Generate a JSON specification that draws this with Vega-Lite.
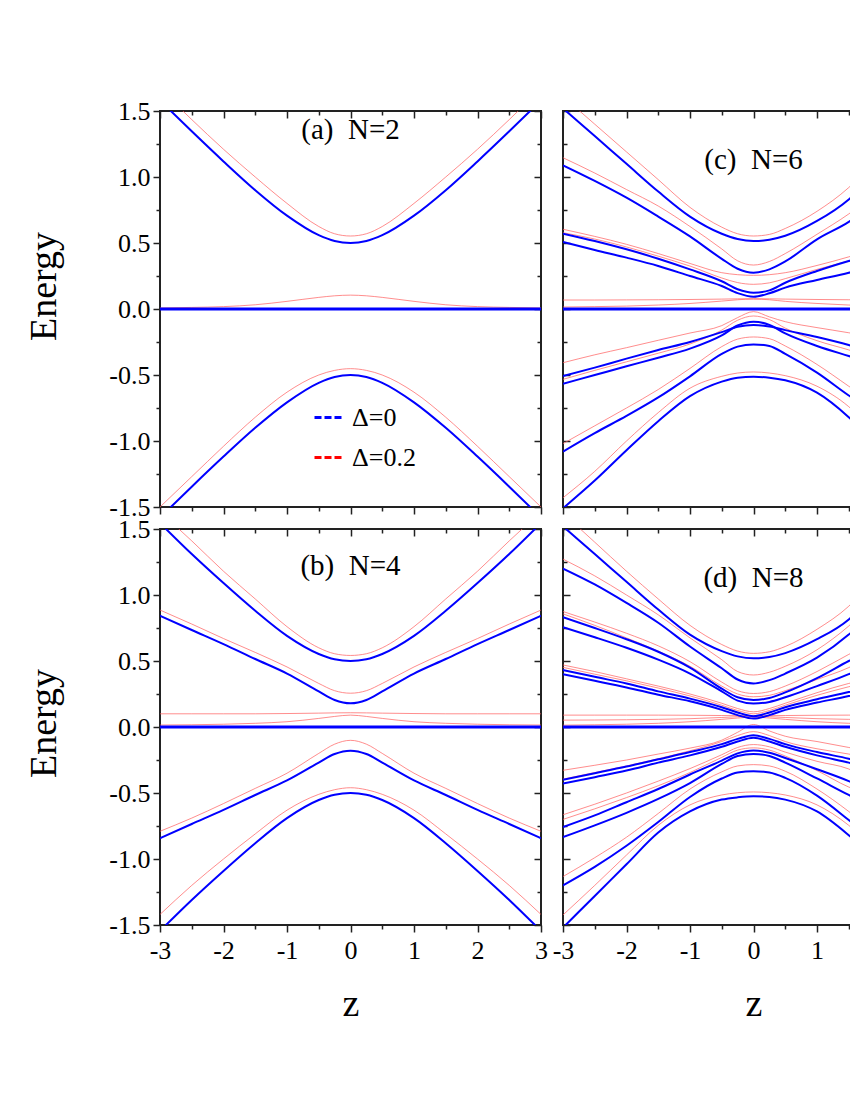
{
"$schema": "https://vega.github.io/schema/vega-lite/v6.json",
"padding": {"left": 24, "top": 97, "right": 0, "bottom": 0},
"background": "white",
"config": {
  "font": "Liberation Serif",
  "view": {"stroke": "#222", "strokeWidth": 2},
  "axis": {"grid": false, "domain": false, "tickColor": "#222", "tickWidth": 1.5, "labelFont": "Liberation Serif", "labelFontSize": 26, "labelColor": "#000", "titleFont": "Liberation Serif", "titleFontWeight": "normal", "titleColor": "#000", "labelFlush": false, "labelOverlap": false, "labelBound": false}
},
"datasets": {
"a": [
{"d":0,"c":1,"z":-3,"e":1.58},{"d":0,"c":1,"z":-2.5,"e":1.346},{"d":0,"c":1,"z":-2,"e":1.118},{"d":0,"c":1,"z":-1.5,"e":0.9},{"d":0,"c":1,"z":-1,"e":0.707},{"d":0,"c":1,"z":-0.5,"e":0.559},{"d":0,"c":1,"z":-0.25,"e":0.515},{"d":0,"c":1,"z":0,"e":0.5},{"d":0,"c":1,"z":0.25,"e":0.515},{"d":0,"c":1,"z":0.5,"e":0.559},{"d":0,"c":1,"z":1,"e":0.707},{"d":0,"c":1,"z":1.5,"e":0.9},{"d":0,"c":1,"z":2,"e":1.118},{"d":0,"c":1,"z":2.5,"e":1.346},{"d":0,"c":1,"z":3,"e":1.58},
{"d":0,"c":0,"z":-3,"e":0},{"d":0,"c":0,"z":0,"e":0},{"d":0,"c":0,"z":3,"e":0},
{"d":0,"c":2,"z":-3,"e":-1.58},{"d":0,"c":2,"z":-2.5,"e":-1.346},{"d":0,"c":2,"z":-2,"e":-1.118},{"d":0,"c":2,"z":-1.5,"e":-0.9},{"d":0,"c":2,"z":-1,"e":-0.707},{"d":0,"c":2,"z":-0.5,"e":-0.559},{"d":0,"c":2,"z":-0.25,"e":-0.515},{"d":0,"c":2,"z":0,"e":-0.5},{"d":0,"c":2,"z":0.25,"e":-0.515},{"d":0,"c":2,"z":0.5,"e":-0.559},{"d":0,"c":2,"z":1,"e":-0.707},{"d":0,"c":2,"z":1.5,"e":-0.9},{"d":0,"c":2,"z":2,"e":-1.118},{"d":0,"c":2,"z":2.5,"e":-1.346},{"d":0,"c":2,"z":3,"e":-1.58},
{"d":0.2,"c":11,"z":-3,"e":1.67},{"d":0.2,"c":11,"z":-2.5,"e":1.435},{"d":0.2,"c":11,"z":-2,"e":1.21},{"d":0.2,"c":11,"z":-1.5,"e":1.0},{"d":0.2,"c":11,"z":-1,"e":0.8},{"d":0.2,"c":11,"z":-0.5,"e":0.625},{"d":0.2,"c":11,"z":-0.25,"e":0.57},{"d":0.2,"c":11,"z":0,"e":0.553},{"d":0.2,"c":11,"z":0.25,"e":0.57},{"d":0.2,"c":11,"z":0.5,"e":0.625},{"d":0.2,"c":11,"z":1,"e":0.8},{"d":0.2,"c":11,"z":1.5,"e":1.0},{"d":0.2,"c":11,"z":2,"e":1.21},{"d":0.2,"c":11,"z":2.5,"e":1.435},{"d":0.2,"c":11,"z":3,"e":1.67},
{"d":0.2,"c":10,"z":-3,"e":0.008},{"d":0.2,"c":10,"z":-2.5,"e":0.012},{"d":0.2,"c":10,"z":-2,"e":0.018},{"d":0.2,"c":10,"z":-1.5,"e":0.032},{"d":0.2,"c":10,"z":-1,"e":0.058},{"d":0.2,"c":10,"z":-0.5,"e":0.088},{"d":0.2,"c":10,"z":-0.25,"e":0.1},{"d":0.2,"c":10,"z":0,"e":0.105},{"d":0.2,"c":10,"z":0.25,"e":0.1},{"d":0.2,"c":10,"z":0.5,"e":0.088},{"d":0.2,"c":10,"z":1,"e":0.058},{"d":0.2,"c":10,"z":1.5,"e":0.032},{"d":0.2,"c":10,"z":2,"e":0.018},{"d":0.2,"c":10,"z":2.5,"e":0.012},{"d":0.2,"c":10,"z":3,"e":0.008},
{"d":0.2,"c":12,"z":-3,"e":-1.5},{"d":0.2,"c":12,"z":-2.5,"e":-1.27},{"d":0.2,"c":12,"z":-2,"e":-1.04},{"d":0.2,"c":12,"z":-1.5,"e":-0.82},{"d":0.2,"c":12,"z":-1,"e":-0.63},{"d":0.2,"c":12,"z":-0.5,"e":-0.5},{"d":0.2,"c":12,"z":-0.25,"e":-0.465},{"d":0.2,"c":12,"z":0,"e":-0.452},{"d":0.2,"c":12,"z":0.25,"e":-0.465},{"d":0.2,"c":12,"z":0.5,"e":-0.5},{"d":0.2,"c":12,"z":1,"e":-0.63},{"d":0.2,"c":12,"z":1.5,"e":-0.82},{"d":0.2,"c":12,"z":2,"e":-1.04},{"d":0.2,"c":12,"z":2.5,"e":-1.27},{"d":0.2,"c":12,"z":3,"e":-1.5}
],
"b": [
{"d":0,"c":1,"z":-3,"e":1.545},{"d":0,"c":1,"z":-2.5,"e":1.31},{"d":0,"c":1,"z":-2,"e":1.09},{"d":0,"c":1,"z":-1.5,"e":0.88},{"d":0,"c":1,"z":-1,"e":0.69},{"d":0,"c":1,"z":-0.5,"e":0.553},{"d":0,"c":1,"z":-0.25,"e":0.513},{"d":0,"c":1,"z":0,"e":0.5},{"d":0,"c":1,"z":0.25,"e":0.513},{"d":0,"c":1,"z":0.5,"e":0.553},{"d":0,"c":1,"z":1,"e":0.69},{"d":0,"c":1,"z":1.5,"e":0.88},{"d":0,"c":1,"z":2,"e":1.09},{"d":0,"c":1,"z":2.5,"e":1.31},{"d":0,"c":1,"z":3,"e":1.545},
{"d":0,"c":2,"z":-3,"e":0.843},{"d":0,"c":2,"z":-2.5,"e":0.735},{"d":0,"c":2,"z":-2,"e":0.628},{"d":0,"c":2,"z":-1.5,"e":0.515},{"d":0,"c":2,"z":-1,"e":0.405},{"d":0,"c":2,"z":-0.5,"e":0.27},{"d":0,"c":2,"z":-0.25,"e":0.205},{"d":0,"c":2,"z":0,"e":0.18},{"d":0,"c":2,"z":0.25,"e":0.205},{"d":0,"c":2,"z":0.5,"e":0.27},{"d":0,"c":2,"z":1,"e":0.405},{"d":0,"c":2,"z":1.5,"e":0.515},{"d":0,"c":2,"z":2,"e":0.628},{"d":0,"c":2,"z":2.5,"e":0.735},{"d":0,"c":2,"z":3,"e":0.843},
{"d":0,"c":0,"z":-3,"e":0},{"d":0,"c":0,"z":0,"e":0},{"d":0,"c":0,"z":3,"e":0},
{"d":0,"c":3,"z":-3,"e":-0.843},{"d":0,"c":3,"z":-2.5,"e":-0.735},{"d":0,"c":3,"z":-2,"e":-0.628},{"d":0,"c":3,"z":-1.5,"e":-0.515},{"d":0,"c":3,"z":-1,"e":-0.405},{"d":0,"c":3,"z":-0.5,"e":-0.27},{"d":0,"c":3,"z":-0.25,"e":-0.205},{"d":0,"c":3,"z":0,"e":-0.18},{"d":0,"c":3,"z":0.25,"e":-0.205},{"d":0,"c":3,"z":0.5,"e":-0.27},{"d":0,"c":3,"z":1,"e":-0.405},{"d":0,"c":3,"z":1.5,"e":-0.515},{"d":0,"c":3,"z":2,"e":-0.628},{"d":0,"c":3,"z":2.5,"e":-0.735},{"d":0,"c":3,"z":3,"e":-0.843},
{"d":0,"c":4,"z":-3,"e":-1.545},{"d":0,"c":4,"z":-2.5,"e":-1.31},{"d":0,"c":4,"z":-2,"e":-1.09},{"d":0,"c":4,"z":-1.5,"e":-0.88},{"d":0,"c":4,"z":-1,"e":-0.69},{"d":0,"c":4,"z":-0.5,"e":-0.553},{"d":0,"c":4,"z":-0.25,"e":-0.513},{"d":0,"c":4,"z":0,"e":-0.5},{"d":0,"c":4,"z":0.25,"e":-0.513},{"d":0,"c":4,"z":0.5,"e":-0.553},{"d":0,"c":4,"z":1,"e":-0.69},{"d":0,"c":4,"z":1.5,"e":-0.88},{"d":0,"c":4,"z":2,"e":-1.09},{"d":0,"c":4,"z":2.5,"e":-1.31},{"d":0,"c":4,"z":3,"e":-1.545},
{"d":0.2,"c":11,"z":-3,"e":1.63},{"d":0.2,"c":11,"z":-2.5,"e":1.41},{"d":0.2,"c":11,"z":-2,"e":1.18},{"d":0.2,"c":11,"z":-1.5,"e":0.97},{"d":0.2,"c":11,"z":-1,"e":0.76},{"d":0.2,"c":11,"z":-0.5,"e":0.6},{"d":0.2,"c":11,"z":-0.25,"e":0.555},{"d":0.2,"c":11,"z":0,"e":0.542},{"d":0.2,"c":11,"z":0.25,"e":0.555},{"d":0.2,"c":11,"z":0.5,"e":0.6},{"d":0.2,"c":11,"z":1,"e":0.76},{"d":0.2,"c":11,"z":1.5,"e":0.97},{"d":0.2,"c":11,"z":2,"e":1.18},{"d":0.2,"c":11,"z":2.5,"e":1.41},{"d":0.2,"c":11,"z":3,"e":1.63},
{"d":0.2,"c":12,"z":-3,"e":0.886},{"d":0.2,"c":12,"z":-2.5,"e":0.78},{"d":0.2,"c":12,"z":-2,"e":0.67},{"d":0.2,"c":12,"z":-1.5,"e":0.565},{"d":0.2,"c":12,"z":-1,"e":0.455},{"d":0.2,"c":12,"z":-0.5,"e":0.33},{"d":0.2,"c":12,"z":-0.25,"e":0.275},{"d":0.2,"c":12,"z":0,"e":0.256},{"d":0.2,"c":12,"z":0.25,"e":0.275},{"d":0.2,"c":12,"z":0.5,"e":0.33},{"d":0.2,"c":12,"z":1,"e":0.455},{"d":0.2,"c":12,"z":1.5,"e":0.565},{"d":0.2,"c":12,"z":2,"e":0.67},{"d":0.2,"c":12,"z":2.5,"e":0.78},{"d":0.2,"c":12,"z":3,"e":0.886},
{"d":0.2,"c":13,"z":-3,"e":0.1},{"d":0.2,"c":13,"z":-2.5,"e":0.1},{"d":0.2,"c":13,"z":-2,"e":0.1},{"d":0.2,"c":13,"z":-1.5,"e":0.1},{"d":0.2,"c":13,"z":-1,"e":0.102},{"d":0.2,"c":13,"z":-0.5,"e":0.105},{"d":0.2,"c":13,"z":-0.25,"e":0.107},{"d":0.2,"c":13,"z":0,"e":0.108},{"d":0.2,"c":13,"z":0.25,"e":0.107},{"d":0.2,"c":13,"z":0.5,"e":0.105},{"d":0.2,"c":13,"z":1,"e":0.102},{"d":0.2,"c":13,"z":1.5,"e":0.1},{"d":0.2,"c":13,"z":2,"e":0.1},{"d":0.2,"c":13,"z":2.5,"e":0.1},{"d":0.2,"c":13,"z":3,"e":0.1},
{"d":0.2,"c":14,"z":-3,"e":0.015},{"d":0.2,"c":14,"z":-2.5,"e":0.017},{"d":0.2,"c":14,"z":-2,"e":0.021},{"d":0.2,"c":14,"z":-1.5,"e":0.028},{"d":0.2,"c":14,"z":-1,"e":0.04},{"d":0.2,"c":14,"z":-0.5,"e":0.065},{"d":0.2,"c":14,"z":-0.25,"e":0.08},{"d":0.2,"c":14,"z":0,"e":0.09},{"d":0.2,"c":14,"z":0.25,"e":0.08},{"d":0.2,"c":14,"z":0.5,"e":0.065},{"d":0.2,"c":14,"z":1,"e":0.04},{"d":0.2,"c":14,"z":1.5,"e":0.028},{"d":0.2,"c":14,"z":2,"e":0.021},{"d":0.2,"c":14,"z":2.5,"e":0.017},{"d":0.2,"c":14,"z":3,"e":0.015},
{"d":0.2,"c":15,"z":-3,"e":-0.79},{"d":0.2,"c":15,"z":-2.5,"e":-0.69},{"d":0.2,"c":15,"z":-2,"e":-0.58},{"d":0.2,"c":15,"z":-1.5,"e":-0.465},{"d":0.2,"c":15,"z":-1,"e":-0.35},{"d":0.2,"c":15,"z":-0.5,"e":-0.2},{"d":0.2,"c":15,"z":-0.25,"e":-0.13},{"d":0.2,"c":15,"z":0,"e":-0.101},{"d":0.2,"c":15,"z":0.25,"e":-0.13},{"d":0.2,"c":15,"z":0.5,"e":-0.2},{"d":0.2,"c":15,"z":1,"e":-0.35},{"d":0.2,"c":15,"z":1.5,"e":-0.465},{"d":0.2,"c":15,"z":2,"e":-0.58},{"d":0.2,"c":15,"z":2.5,"e":-0.69},{"d":0.2,"c":15,"z":3,"e":-0.79},
{"d":0.2,"c":16,"z":-3,"e":-1.42},{"d":0.2,"c":16,"z":-2.5,"e":-1.2},{"d":0.2,"c":16,"z":-2,"e":-1.0},{"d":0.2,"c":16,"z":-1.5,"e":-0.81},{"d":0.2,"c":16,"z":-1,"e":-0.63},{"d":0.2,"c":16,"z":-0.5,"e":-0.51},{"d":0.2,"c":16,"z":-0.25,"e":-0.475},{"d":0.2,"c":16,"z":0,"e":-0.46},{"d":0.2,"c":16,"z":0.25,"e":-0.475},{"d":0.2,"c":16,"z":0.5,"e":-0.51},{"d":0.2,"c":16,"z":1,"e":-0.63},{"d":0.2,"c":16,"z":1.5,"e":-0.81},{"d":0.2,"c":16,"z":2,"e":-1.0},{"d":0.2,"c":16,"z":2.5,"e":-1.2},{"d":0.2,"c":16,"z":3,"e":-1.42}
],
"c": [
{"d":0,"c":1,"z":-3,"e":1.52},{"d":0,"c":1,"z":-2.5,"e":1.31},{"d":0,"c":1,"z":-2,"e":1.1},{"d":0,"c":1,"z":-1.5,"e":0.89},{"d":0,"c":1,"z":-1,"e":0.7},{"d":0,"c":1,"z":-0.5,"e":0.57},{"d":0,"c":1,"z":-0.25,"e":0.53},{"d":0,"c":1,"z":0,"e":0.515},{"d":0,"c":1,"z":0.25,"e":0.525},{"d":0,"c":1,"z":0.5,"e":0.555},{"d":0,"c":1,"z":1,"e":0.667},{"d":0,"c":1,"z":1.5,"e":0.83},{"d":0,"c":1,"z":2,"e":1.08},{"d":0,"c":1,"z":2.5,"e":1.3},{"d":0,"c":1,"z":3,"e":1.52},
{"d":0,"c":2,"z":-3,"e":1.088},{"d":0,"c":2,"z":-2.5,"e":0.97},{"d":0,"c":2,"z":-2,"e":0.843},{"d":0,"c":2,"z":-1.5,"e":0.7},{"d":0,"c":2,"z":-1,"e":0.55},{"d":0,"c":2,"z":-0.5,"e":0.38},{"d":0,"c":2,"z":-0.25,"e":0.305},{"d":0,"c":2,"z":0,"e":0.275},{"d":0,"c":2,"z":0.25,"e":0.3},{"d":0,"c":2,"z":0.5,"e":0.36},{"d":0,"c":2,"z":1,"e":0.528},{"d":0,"c":2,"z":1.5,"e":0.66},{"d":0,"c":2,"z":2,"e":0.843},{"d":0,"c":2,"z":2.5,"e":0.97},{"d":0,"c":2,"z":3,"e":1.088},
{"d":0,"c":3,"z":-3,"e":0.571},{"d":0,"c":3,"z":-2.5,"e":0.515},{"d":0,"c":3,"z":-2,"e":0.452},{"d":0,"c":3,"z":-1.5,"e":0.381},{"d":0,"c":3,"z":-1,"e":0.3},{"d":0,"c":3,"z":-0.5,"e":0.21},{"d":0,"c":3,"z":-0.25,"e":0.15},{"d":0,"c":3,"z":0,"e":0.124},{"d":0,"c":3,"z":0.25,"e":0.141},{"d":0,"c":3,"z":0.5,"e":0.199},{"d":0,"c":3,"z":1,"e":0.288},{"d":0,"c":3,"z":1.5,"e":0.364},{"d":0,"c":3,"z":2,"e":0.43},{"d":0,"c":3,"z":2.5,"e":0.5},{"d":0,"c":3,"z":3,"e":0.571},
{"d":0,"c":4,"z":-3,"e":0.508},{"d":0,"c":4,"z":-2.5,"e":0.447},{"d":0,"c":4,"z":-2,"e":0.389},{"d":0,"c":4,"z":-1.5,"e":0.326},{"d":0,"c":4,"z":-1,"e":0.25},{"d":0,"c":4,"z":-0.5,"e":0.174},{"d":0,"c":4,"z":-0.25,"e":0.12},{"d":0,"c":4,"z":0,"e":0.093},{"d":0,"c":4,"z":0.25,"e":0.119},{"d":0,"c":4,"z":0.5,"e":0.162},{"d":0,"c":4,"z":1,"e":0.22},{"d":0,"c":4,"z":1.5,"e":0.275},{"d":0,"c":4,"z":2,"e":0.35},{"d":0,"c":4,"z":2.5,"e":0.43},{"d":0,"c":4,"z":3,"e":0.508},
{"d":0,"c":0,"z":-3,"e":0},{"d":0,"c":0,"z":0,"e":0},{"d":0,"c":0,"z":3,"e":0},
{"d":0,"c":5,"z":-3,"e":-0.508},{"d":0,"c":5,"z":-2.5,"e":-0.444},{"d":0,"c":5,"z":-2,"e":-0.376},{"d":0,"c":5,"z":-1.5,"e":-0.311},{"d":0,"c":5,"z":-1,"e":-0.25},{"d":0,"c":5,"z":-0.5,"e":-0.175},{"d":0,"c":5,"z":-0.25,"e":-0.135},{"d":0,"c":5,"z":0,"e":-0.121},{"d":0,"c":5,"z":0.25,"e":-0.133},{"d":0,"c":5,"z":0.5,"e":-0.16},{"d":0,"c":5,"z":1,"e":-0.212},{"d":0,"c":5,"z":1.5,"e":-0.273},{"d":0,"c":5,"z":2,"e":-0.35},{"d":0,"c":5,"z":2.5,"e":-0.43},{"d":0,"c":5,"z":3,"e":-0.508},
{"d":0,"c":6,"z":-3,"e":-0.566},{"d":0,"c":6,"z":-2.5,"e":-0.5},{"d":0,"c":6,"z":-2,"e":-0.434},{"d":0,"c":6,"z":-1.5,"e":-0.369},{"d":0,"c":6,"z":-1,"e":-0.3},{"d":0,"c":6,"z":-0.5,"e":-0.2},{"d":0,"c":6,"z":-0.25,"e":-0.125},{"d":0,"c":6,"z":0,"e":-0.096},{"d":0,"c":6,"z":0.25,"e":-0.12},{"d":0,"c":6,"z":0.5,"e":-0.185},{"d":0,"c":6,"z":1,"e":-0.28},{"d":0,"c":6,"z":1.5,"e":-0.356},{"d":0,"c":6,"z":2,"e":-0.43},{"d":0,"c":6,"z":2.5,"e":-0.5},{"d":0,"c":6,"z":3,"e":-0.566},
{"d":0,"c":7,"z":-3,"e":-1.08},{"d":0,"c":7,"z":-2.5,"e":-0.94},{"d":0,"c":7,"z":-2,"e":-0.81},{"d":0,"c":7,"z":-1.5,"e":-0.67},{"d":0,"c":7,"z":-1,"e":-0.51},{"d":0,"c":7,"z":-0.5,"e":-0.34},{"d":0,"c":7,"z":-0.25,"e":-0.285},{"d":0,"c":7,"z":0,"e":-0.268},{"d":0,"c":7,"z":0.25,"e":-0.28},{"d":0,"c":7,"z":0.5,"e":-0.34},{"d":0,"c":7,"z":1,"e":-0.482},{"d":0,"c":7,"z":1.5,"e":-0.655},{"d":0,"c":7,"z":2,"e":-0.81},{"d":0,"c":7,"z":2.5,"e":-0.94},{"d":0,"c":7,"z":3,"e":-1.08},
{"d":0,"c":8,"z":-3,"e":-1.51},{"d":0,"c":8,"z":-2.5,"e":-1.3},{"d":0,"c":8,"z":-2,"e":-1.07},{"d":0,"c":8,"z":-1.5,"e":-0.85},{"d":0,"c":8,"z":-1,"e":-0.66},{"d":0,"c":8,"z":-0.5,"e":-0.55},{"d":0,"c":8,"z":-0.25,"e":-0.52},{"d":0,"c":8,"z":0,"e":-0.513},{"d":0,"c":8,"z":0.25,"e":-0.52},{"d":0,"c":8,"z":0.5,"e":-0.54},{"d":0,"c":8,"z":1,"e":-0.634},{"d":0,"c":8,"z":1.5,"e":-0.82},{"d":0,"c":8,"z":2,"e":-1.07},{"d":0,"c":8,"z":2.5,"e":-1.3},{"d":0,"c":8,"z":3,"e":-1.51},
{"d":0.2,"c":11,"z":-3,"e":1.61},{"d":0.2,"c":11,"z":-2.5,"e":1.4},{"d":0.2,"c":11,"z":-2,"e":1.19},{"d":0.2,"c":11,"z":-1.5,"e":0.98},{"d":0.2,"c":11,"z":-1,"e":0.77},{"d":0.2,"c":11,"z":-0.5,"e":0.62},{"d":0.2,"c":11,"z":-0.25,"e":0.57},{"d":0.2,"c":11,"z":0,"e":0.553},{"d":0.2,"c":11,"z":0.25,"e":0.565},{"d":0.2,"c":11,"z":0.5,"e":0.61},{"d":0.2,"c":11,"z":1,"e":0.74},{"d":0.2,"c":11,"z":1.5,"e":0.92},{"d":0.2,"c":11,"z":2,"e":1.17},{"d":0.2,"c":11,"z":2.5,"e":1.39},{"d":0.2,"c":11,"z":3,"e":1.61},
{"d":0.2,"c":12,"z":-3,"e":1.146},{"d":0.2,"c":12,"z":-2.5,"e":1.03},{"d":0.2,"c":12,"z":-2,"e":0.905},{"d":0.2,"c":12,"z":-1.5,"e":0.78},{"d":0.2,"c":12,"z":-1,"e":0.625},{"d":0.2,"c":12,"z":-0.5,"e":0.455},{"d":0.2,"c":12,"z":-0.25,"e":0.365},{"d":0.2,"c":12,"z":0,"e":0.333},{"d":0.2,"c":12,"z":0.25,"e":0.36},{"d":0.2,"c":12,"z":0.5,"e":0.42},{"d":0.2,"c":12,"z":1,"e":0.566},{"d":0.2,"c":12,"z":1.5,"e":0.72},{"d":0.2,"c":12,"z":2,"e":0.905},{"d":0.2,"c":12,"z":2.5,"e":1.03},{"d":0.2,"c":12,"z":3,"e":1.146},
{"d":0.2,"c":13,"z":-3,"e":0.604},{"d":0.2,"c":13,"z":-2.5,"e":0.55},{"d":0.2,"c":13,"z":-2,"e":0.49},{"d":0.2,"c":13,"z":-1.5,"e":0.42},{"d":0.2,"c":13,"z":-1,"e":0.345},{"d":0.2,"c":13,"z":-0.5,"e":0.275},{"d":0.2,"c":13,"z":-0.25,"e":0.26},{"d":0.2,"c":13,"z":0,"e":0.255},{"d":0.2,"c":13,"z":0.25,"e":0.26},{"d":0.2,"c":13,"z":0.5,"e":0.275},{"d":0.2,"c":13,"z":1,"e":0.33},{"d":0.2,"c":13,"z":1.5,"e":0.395},{"d":0.2,"c":13,"z":2,"e":0.47},{"d":0.2,"c":13,"z":2.5,"e":0.54},{"d":0.2,"c":13,"z":3,"e":0.604},
{"d":0.2,"c":14,"z":-3,"e":0.578},{"d":0.2,"c":14,"z":-2.5,"e":0.53},{"d":0.2,"c":14,"z":-2,"e":0.47},{"d":0.2,"c":14,"z":-1.5,"e":0.4},{"d":0.2,"c":14,"z":-1,"e":0.325},{"d":0.2,"c":14,"z":-0.5,"e":0.235},{"d":0.2,"c":14,"z":-0.25,"e":0.2},{"d":0.2,"c":14,"z":0,"e":0.187},{"d":0.2,"c":14,"z":0.25,"e":0.198},{"d":0.2,"c":14,"z":0.5,"e":0.23},{"d":0.2,"c":14,"z":1,"e":0.3},{"d":0.2,"c":14,"z":1.5,"e":0.365},{"d":0.2,"c":14,"z":2,"e":0.44},{"d":0.2,"c":14,"z":2.5,"e":0.51},{"d":0.2,"c":14,"z":3,"e":0.578},
{"d":0.2,"c":15,"z":-3,"e":0.068},{"d":0.2,"c":15,"z":-2.5,"e":0.068},{"d":0.2,"c":15,"z":-2,"e":0.069},{"d":0.2,"c":15,"z":-1.5,"e":0.07},{"d":0.2,"c":15,"z":-1,"e":0.072},{"d":0.2,"c":15,"z":-0.5,"e":0.075},{"d":0.2,"c":15,"z":-0.25,"e":0.077},{"d":0.2,"c":15,"z":0,"e":0.078},{"d":0.2,"c":15,"z":0.25,"e":0.077},{"d":0.2,"c":15,"z":0.5,"e":0.075},{"d":0.2,"c":15,"z":1,"e":0.072},{"d":0.2,"c":15,"z":1.5,"e":0.07},{"d":0.2,"c":15,"z":2,"e":0.069},{"d":0.2,"c":15,"z":2.5,"e":0.068},{"d":0.2,"c":15,"z":3,"e":0.068},
{"d":0.2,"c":16,"z":-3,"e":0.015},{"d":0.2,"c":16,"z":-2.5,"e":0.018},{"d":0.2,"c":16,"z":-2,"e":0.022},{"d":0.2,"c":16,"z":-1.5,"e":0.03},{"d":0.2,"c":16,"z":-1,"e":0.042},{"d":0.2,"c":16,"z":-0.5,"e":0.06},{"d":0.2,"c":16,"z":-0.25,"e":0.07},{"d":0.2,"c":16,"z":0,"e":0.075},{"d":0.2,"c":16,"z":0.25,"e":0.07},{"d":0.2,"c":16,"z":0.5,"e":0.058},{"d":0.2,"c":16,"z":1,"e":0.042},{"d":0.2,"c":16,"z":1.5,"e":0.03},{"d":0.2,"c":16,"z":2,"e":0.022},{"d":0.2,"c":16,"z":2.5,"e":0.018},{"d":0.2,"c":16,"z":3,"e":0.015},
{"d":0.2,"c":17,"z":-3,"e":-0.407},{"d":0.2,"c":17,"z":-2.5,"e":-0.347},{"d":0.2,"c":17,"z":-2,"e":-0.293},{"d":0.2,"c":17,"z":-1.5,"e":-0.237},{"d":0.2,"c":17,"z":-1,"e":-0.182},{"d":0.2,"c":17,"z":-0.5,"e":-0.126},{"d":0.2,"c":17,"z":-0.25,"e":-0.065},{"d":0.2,"c":17,"z":0,"e":-0.02},{"d":0.2,"c":17,"z":0.25,"e":-0.06},{"d":0.2,"c":17,"z":0.5,"e":-0.096},{"d":0.2,"c":17,"z":1,"e":-0.141},{"d":0.2,"c":17,"z":1.5,"e":-0.18},{"d":0.2,"c":17,"z":2,"e":-0.225},{"d":0.2,"c":17,"z":2.5,"e":-0.27},{"d":0.2,"c":17,"z":3,"e":-0.31},
{"d":0.2,"c":18,"z":-3,"e":-0.533},{"d":0.2,"c":18,"z":-2.5,"e":-0.465},{"d":0.2,"c":18,"z":-2,"e":-0.4},{"d":0.2,"c":18,"z":-1.5,"e":-0.335},{"d":0.2,"c":18,"z":-1,"e":-0.265},{"d":0.2,"c":18,"z":-0.5,"e":-0.16},{"d":0.2,"c":18,"z":-0.25,"e":-0.085},{"d":0.2,"c":18,"z":0,"e":-0.053},{"d":0.2,"c":18,"z":0.25,"e":-0.08},{"d":0.2,"c":18,"z":0.5,"e":-0.145},{"d":0.2,"c":18,"z":1,"e":-0.24},{"d":0.2,"c":18,"z":1.5,"e":-0.31},{"d":0.2,"c":18,"z":2,"e":-0.39},{"d":0.2,"c":18,"z":2.5,"e":-0.46},{"d":0.2,"c":18,"z":3,"e":-0.53},
{"d":0.2,"c":19,"z":-3,"e":-1.02},{"d":0.2,"c":19,"z":-2.5,"e":-0.885},{"d":0.2,"c":19,"z":-2,"e":-0.75},{"d":0.2,"c":19,"z":-1.5,"e":-0.61},{"d":0.2,"c":19,"z":-1,"e":-0.45},{"d":0.2,"c":19,"z":-0.5,"e":-0.285},{"d":0.2,"c":19,"z":-0.25,"e":-0.228},{"d":0.2,"c":19,"z":0,"e":-0.212},{"d":0.2,"c":19,"z":0.25,"e":-0.225},{"d":0.2,"c":19,"z":0.5,"e":-0.28},{"d":0.2,"c":19,"z":1,"e":-0.42},{"d":0.2,"c":19,"z":1.5,"e":-0.585},{"d":0.2,"c":19,"z":2,"e":-0.75},{"d":0.2,"c":19,"z":2.5,"e":-0.885},{"d":0.2,"c":19,"z":3,"e":-1.02},
{"d":0.2,"c":20,"z":-3,"e":-1.43},{"d":0.2,"c":20,"z":-2.5,"e":-1.23},{"d":0.2,"c":20,"z":-2,"e":-1.0},{"d":0.2,"c":20,"z":-1.5,"e":-0.785},{"d":0.2,"c":20,"z":-1,"e":-0.6},{"d":0.2,"c":20,"z":-0.5,"e":-0.51},{"d":0.2,"c":20,"z":-0.25,"e":-0.485},{"d":0.2,"c":20,"z":0,"e":-0.477},{"d":0.2,"c":20,"z":0.25,"e":-0.485},{"d":0.2,"c":20,"z":0.5,"e":-0.505},{"d":0.2,"c":20,"z":1,"e":-0.585},{"d":0.2,"c":20,"z":1.5,"e":-0.74},{"d":0.2,"c":20,"z":2,"e":-0.99},{"d":0.2,"c":20,"z":2.5,"e":-1.22},{"d":0.2,"c":20,"z":3,"e":-1.43}
],
"d": [
{"d":0,"c":1,"z":-3,"e":1.52},{"d":0,"c":1,"z":-2.5,"e":1.31},{"d":0,"c":1,"z":-2,"e":1.1},{"d":0,"c":1,"z":-1.5,"e":0.89},{"d":0,"c":1,"z":-1,"e":0.7},{"d":0,"c":1,"z":-0.5,"e":0.575},{"d":0,"c":1,"z":-0.25,"e":0.535},{"d":0,"c":1,"z":0,"e":0.52},{"d":0,"c":1,"z":0.25,"e":0.53},{"d":0,"c":1,"z":0.5,"e":0.56},{"d":0,"c":1,"z":1,"e":0.665},{"d":0,"c":1,"z":1.5,"e":0.815},{"d":0,"c":1,"z":2,"e":1.08},{"d":0,"c":1,"z":2.5,"e":1.3},{"d":0,"c":1,"z":3,"e":1.52},
{"d":0,"c":2,"z":-3,"e":1.2},{"d":0,"c":2,"z":-2.5,"e":1.08},{"d":0,"c":2,"z":-2,"e":0.94},{"d":0,"c":2,"z":-1.5,"e":0.79},{"d":0,"c":2,"z":-1,"e":0.61},{"d":0,"c":2,"z":-0.5,"e":0.445},{"d":0,"c":2,"z":-0.25,"e":0.36},{"d":0,"c":2,"z":0,"e":0.33},{"d":0,"c":2,"z":0.25,"e":0.355},{"d":0,"c":2,"z":0.5,"e":0.405},{"d":0,"c":2,"z":1,"e":0.525},{"d":0,"c":2,"z":1.5,"e":0.7},{"d":0,"c":2,"z":2,"e":0.94},{"d":0,"c":2,"z":2.5,"e":1.08},{"d":0,"c":2,"z":3,"e":1.2},
{"d":0,"c":3,"z":-3,"e":0.832},{"d":0,"c":3,"z":-2.5,"e":0.75},{"d":0,"c":3,"z":-2,"e":0.665},{"d":0,"c":3,"z":-1.5,"e":0.57},{"d":0,"c":3,"z":-1,"e":0.45},{"d":0,"c":3,"z":-0.5,"e":0.29},{"d":0,"c":3,"z":-0.25,"e":0.225},{"d":0,"c":3,"z":0,"e":0.204},{"d":0,"c":3,"z":0.25,"e":0.22},{"d":0,"c":3,"z":0.5,"e":0.262},{"d":0,"c":3,"z":1,"e":0.37},{"d":0,"c":3,"z":1.5,"e":0.5},{"d":0,"c":3,"z":2,"e":0.62},{"d":0,"c":3,"z":2.5,"e":0.73},{"d":0,"c":3,"z":3,"e":0.832},
{"d":0,"c":4,"z":-3,"e":0.756},{"d":0,"c":4,"z":-2.5,"e":0.68},{"d":0,"c":4,"z":-2,"e":0.6},{"d":0,"c":4,"z":-1.5,"e":0.51},{"d":0,"c":4,"z":-1,"e":0.405},{"d":0,"c":4,"z":-0.5,"e":0.27},{"d":0,"c":4,"z":-0.25,"e":0.2},{"d":0,"c":4,"z":0,"e":0.178},{"d":0,"c":4,"z":0.25,"e":0.19},{"d":0,"c":4,"z":0.5,"e":0.225},{"d":0,"c":4,"z":1,"e":0.31},{"d":0,"c":4,"z":1.5,"e":0.4},{"d":0,"c":4,"z":2,"e":0.52},{"d":0,"c":4,"z":2.5,"e":0.64},{"d":0,"c":4,"z":3,"e":0.756},
{"d":0,"c":5,"z":-3,"e":0.432},{"d":0,"c":5,"z":-2.5,"e":0.38},{"d":0,"c":5,"z":-2,"e":0.33},{"d":0,"c":5,"z":-1.5,"e":0.27},{"d":0,"c":5,"z":-1,"e":0.215},{"d":0,"c":5,"z":-0.5,"e":0.15},{"d":0,"c":5,"z":-0.25,"e":0.11},{"d":0,"c":5,"z":0,"e":0.082},{"d":0,"c":5,"z":0.25,"e":0.11},{"d":0,"c":5,"z":0.5,"e":0.15},{"d":0,"c":5,"z":1,"e":0.21},{"d":0,"c":5,"z":1.5,"e":0.265},{"d":0,"c":5,"z":2,"e":0.33},{"d":0,"c":5,"z":2.5,"e":0.38},{"d":0,"c":5,"z":3,"e":0.432},
{"d":0,"c":6,"z":-3,"e":0.399},{"d":0,"c":6,"z":-2.5,"e":0.35},{"d":0,"c":6,"z":-2,"e":0.3},{"d":0,"c":6,"z":-1.5,"e":0.245},{"d":0,"c":6,"z":-1,"e":0.195},{"d":0,"c":6,"z":-0.5,"e":0.13},{"d":0,"c":6,"z":-0.25,"e":0.09},{"d":0,"c":6,"z":0,"e":0.064},{"d":0,"c":6,"z":0.25,"e":0.09},{"d":0,"c":6,"z":0.5,"e":0.13},{"d":0,"c":6,"z":1,"e":0.185},{"d":0,"c":6,"z":1.5,"e":0.235},{"d":0,"c":6,"z":2,"e":0.3},{"d":0,"c":6,"z":2.5,"e":0.35},{"d":0,"c":6,"z":3,"e":0.399},
{"d":0,"c":0,"z":-3,"e":0},{"d":0,"c":0,"z":0,"e":0},{"d":0,"c":0,"z":3,"e":0},
{"d":0,"c":7,"z":-3,"e":-0.399},{"d":0,"c":7,"z":-2.5,"e":-0.35},{"d":0,"c":7,"z":-2,"e":-0.3},{"d":0,"c":7,"z":-1.5,"e":-0.245},{"d":0,"c":7,"z":-1,"e":-0.19},{"d":0,"c":7,"z":-0.5,"e":-0.13},{"d":0,"c":7,"z":-0.25,"e":-0.09},{"d":0,"c":7,"z":0,"e":-0.062},{"d":0,"c":7,"z":0.25,"e":-0.09},{"d":0,"c":7,"z":0.5,"e":-0.13},{"d":0,"c":7,"z":1,"e":-0.19},{"d":0,"c":7,"z":1.5,"e":-0.24},{"d":0,"c":7,"z":2,"e":-0.3},{"d":0,"c":7,"z":2.5,"e":-0.35},{"d":0,"c":7,"z":3,"e":-0.399},
{"d":0,"c":8,"z":-3,"e":-0.429},{"d":0,"c":8,"z":-2.5,"e":-0.38},{"d":0,"c":8,"z":-2,"e":-0.33},{"d":0,"c":8,"z":-1.5,"e":-0.27},{"d":0,"c":8,"z":-1,"e":-0.215},{"d":0,"c":8,"z":-0.5,"e":-0.15},{"d":0,"c":8,"z":-0.25,"e":-0.11},{"d":0,"c":8,"z":0,"e":-0.082},{"d":0,"c":8,"z":0.25,"e":-0.11},{"d":0,"c":8,"z":0.5,"e":-0.15},{"d":0,"c":8,"z":1,"e":-0.215},{"d":0,"c":8,"z":1.5,"e":-0.27},{"d":0,"c":8,"z":2,"e":-0.33},{"d":0,"c":8,"z":2.5,"e":-0.38},{"d":0,"c":8,"z":3,"e":-0.429},
{"d":0,"c":9,"z":-3,"e":-0.758},{"d":0,"c":9,"z":-2.5,"e":-0.67},{"d":0,"c":9,"z":-2,"e":-0.57},{"d":0,"c":9,"z":-1.5,"e":-0.47},{"d":0,"c":9,"z":-1,"e":-0.36},{"d":0,"c":9,"z":-0.5,"e":-0.255},{"d":0,"c":9,"z":-0.25,"e":-0.2},{"d":0,"c":9,"z":0,"e":-0.178},{"d":0,"c":9,"z":0.25,"e":-0.195},{"d":0,"c":9,"z":0.5,"e":-0.235},{"d":0,"c":9,"z":1,"e":-0.32},{"d":0,"c":9,"z":1.5,"e":-0.41},{"d":0,"c":9,"z":2,"e":-0.52},{"d":0,"c":9,"z":2.5,"e":-0.64},{"d":0,"c":9,"z":3,"e":-0.758},
{"d":0,"c":10,"z":-3,"e":-0.834},{"d":0,"c":10,"z":-2.5,"e":-0.745},{"d":0,"c":10,"z":-2,"e":-0.65},{"d":0,"c":10,"z":-1.5,"e":-0.545},{"d":0,"c":10,"z":-1,"e":-0.425},{"d":0,"c":10,"z":-0.5,"e":-0.28},{"d":0,"c":10,"z":-0.25,"e":-0.22},{"d":0,"c":10,"z":0,"e":-0.204},{"d":0,"c":10,"z":0.25,"e":-0.22},{"d":0,"c":10,"z":0.5,"e":-0.27},{"d":0,"c":10,"z":1,"e":-0.39},{"d":0,"c":10,"z":1.5,"e":-0.515},{"d":0,"c":10,"z":2,"e":-0.63},{"d":0,"c":10,"z":2.5,"e":-0.73},{"d":0,"c":10,"z":3,"e":-0.834},
{"d":0,"c":11,"z":-3,"e":-1.2},{"d":0,"c":11,"z":-2.5,"e":-1.06},{"d":0,"c":11,"z":-2,"e":-0.9},{"d":0,"c":11,"z":-1.5,"e":-0.72},{"d":0,"c":11,"z":-1,"e":-0.53},{"d":0,"c":11,"z":-0.5,"e":-0.39},{"d":0,"c":11,"z":-0.25,"e":-0.345},{"d":0,"c":11,"z":0,"e":-0.335},{"d":0,"c":11,"z":0.25,"e":-0.345},{"d":0,"c":11,"z":0.5,"e":-0.385},{"d":0,"c":11,"z":1,"e":-0.52},{"d":0,"c":11,"z":1.5,"e":-0.705},{"d":0,"c":11,"z":2,"e":-0.9},{"d":0,"c":11,"z":2.5,"e":-1.06},{"d":0,"c":11,"z":3,"e":-1.2},
{"d":0,"c":12,"z":-3,"e":-1.52},{"d":0,"c":12,"z":-2.5,"e":-1.28},{"d":0,"c":12,"z":-2,"e":-1.04},{"d":0,"c":12,"z":-1.5,"e":-0.8},{"d":0,"c":12,"z":-1,"e":-0.64},{"d":0,"c":12,"z":-0.5,"e":-0.55},{"d":0,"c":12,"z":-0.25,"e":-0.533},{"d":0,"c":12,"z":0,"e":-0.525},{"d":0,"c":12,"z":0.25,"e":-0.53},{"d":0,"c":12,"z":0.5,"e":-0.55},{"d":0,"c":12,"z":1,"e":-0.64},{"d":0,"c":12,"z":1.5,"e":-0.82},{"d":0,"c":12,"z":2,"e":-1.04},{"d":0,"c":12,"z":2.5,"e":-1.28},{"d":0,"c":12,"z":3,"e":-1.52},
{"d":0.2,"c":21,"z":-3,"e":1.62},{"d":0.2,"c":21,"z":-2.5,"e":1.4},{"d":0.2,"c":21,"z":-2,"e":1.18},{"d":0.2,"c":21,"z":-1.5,"e":0.97},{"d":0.2,"c":21,"z":-1,"e":0.77},{"d":0.2,"c":21,"z":-0.5,"e":0.625},{"d":0.2,"c":21,"z":-0.25,"e":0.575},{"d":0.2,"c":21,"z":0,"e":0.558},{"d":0.2,"c":21,"z":0.25,"e":0.57},{"d":0.2,"c":21,"z":0.5,"e":0.61},{"d":0.2,"c":21,"z":1,"e":0.74},{"d":0.2,"c":21,"z":1.5,"e":0.915},{"d":0.2,"c":21,"z":2,"e":1.18},{"d":0.2,"c":21,"z":2.5,"e":1.4},{"d":0.2,"c":21,"z":3,"e":1.62},
{"d":0.2,"c":22,"z":-3,"e":1.272},{"d":0.2,"c":22,"z":-2.5,"e":1.145},{"d":0.2,"c":22,"z":-2,"e":1.0},{"d":0.2,"c":22,"z":-1.5,"e":0.85},{"d":0.2,"c":22,"z":-1,"e":0.675},{"d":0.2,"c":22,"z":-0.5,"e":0.51},{"d":0.2,"c":22,"z":-0.25,"e":0.42},{"d":0.2,"c":22,"z":0,"e":0.394},{"d":0.2,"c":22,"z":0.25,"e":0.415},{"d":0.2,"c":22,"z":0.5,"e":0.46},{"d":0.2,"c":22,"z":1,"e":0.585},{"d":0.2,"c":22,"z":1.5,"e":0.765},{"d":0.2,"c":22,"z":2,"e":1.0},{"d":0.2,"c":22,"z":2.5,"e":1.145},{"d":0.2,"c":22,"z":3,"e":1.272},
{"d":0.2,"c":23,"z":-3,"e":0.875},{"d":0.2,"c":23,"z":-2.5,"e":0.795},{"d":0.2,"c":23,"z":-2,"e":0.71},{"d":0.2,"c":23,"z":-1.5,"e":0.615},{"d":0.2,"c":23,"z":-1,"e":0.495},{"d":0.2,"c":23,"z":-0.5,"e":0.34},{"d":0.2,"c":23,"z":-0.25,"e":0.275},{"d":0.2,"c":23,"z":0,"e":0.254},{"d":0.2,"c":23,"z":0.25,"e":0.268},{"d":0.2,"c":23,"z":0.5,"e":0.31},{"d":0.2,"c":23,"z":1,"e":0.42},{"d":0.2,"c":23,"z":1.5,"e":0.55},{"d":0.2,"c":23,"z":2,"e":0.67},{"d":0.2,"c":23,"z":2.5,"e":0.77},{"d":0.2,"c":23,"z":3,"e":0.875},
{"d":0.2,"c":24,"z":-3,"e":0.857},{"d":0.2,"c":24,"z":-2.5,"e":0.77},{"d":0.2,"c":24,"z":-2,"e":0.675},{"d":0.2,"c":24,"z":-1.5,"e":0.575},{"d":0.2,"c":24,"z":-1,"e":0.46},{"d":0.2,"c":24,"z":-0.5,"e":0.31},{"d":0.2,"c":24,"z":-0.25,"e":0.25},{"d":0.2,"c":24,"z":0,"e":0.229},{"d":0.2,"c":24,"z":0.25,"e":0.24},{"d":0.2,"c":24,"z":0.5,"e":0.275},{"d":0.2,"c":24,"z":1,"e":0.36},{"d":0.2,"c":24,"z":1.5,"e":0.45},{"d":0.2,"c":24,"z":2,"e":0.58},{"d":0.2,"c":24,"z":2.5,"e":0.72},{"d":0.2,"c":24,"z":3,"e":0.857},
{"d":0.2,"c":25,"z":-3,"e":0.47},{"d":0.2,"c":25,"z":-2.5,"e":0.42},{"d":0.2,"c":25,"z":-2,"e":0.365},{"d":0.2,"c":25,"z":-1.5,"e":0.31},{"d":0.2,"c":25,"z":-1,"e":0.25},{"d":0.2,"c":25,"z":-0.5,"e":0.18},{"d":0.2,"c":25,"z":-0.25,"e":0.14},{"d":0.2,"c":25,"z":0,"e":0.115},{"d":0.2,"c":25,"z":0.25,"e":0.14},{"d":0.2,"c":25,"z":0.5,"e":0.18},{"d":0.2,"c":25,"z":1,"e":0.26},{"d":0.2,"c":25,"z":1.5,"e":0.33},{"d":0.2,"c":25,"z":2,"e":0.38},{"d":0.2,"c":25,"z":2.5,"e":0.43},{"d":0.2,"c":25,"z":3,"e":0.47},
{"d":0.2,"c":26,"z":-3,"e":0.452},{"d":0.2,"c":26,"z":-2.5,"e":0.4},{"d":0.2,"c":26,"z":-2,"e":0.35},{"d":0.2,"c":26,"z":-1.5,"e":0.295},{"d":0.2,"c":26,"z":-1,"e":0.235},{"d":0.2,"c":26,"z":-0.5,"e":0.165},{"d":0.2,"c":26,"z":-0.25,"e":0.125},{"d":0.2,"c":26,"z":0,"e":0.1},{"d":0.2,"c":26,"z":0.25,"e":0.125},{"d":0.2,"c":26,"z":0.5,"e":0.165},{"d":0.2,"c":26,"z":1,"e":0.24},{"d":0.2,"c":26,"z":1.5,"e":0.305},{"d":0.2,"c":26,"z":2,"e":0.36},{"d":0.2,"c":26,"z":2.5,"e":0.41},{"d":0.2,"c":26,"z":3,"e":0.452},
{"d":0.2,"c":27,"z":-3,"e":0.09},{"d":0.2,"c":27,"z":-2.5,"e":0.09},{"d":0.2,"c":27,"z":-2,"e":0.09},{"d":0.2,"c":27,"z":-1.5,"e":0.09},{"d":0.2,"c":27,"z":-1,"e":0.089},{"d":0.2,"c":27,"z":-0.5,"e":0.087},{"d":0.2,"c":27,"z":-0.25,"e":0.086},{"d":0.2,"c":27,"z":0,"e":0.085},{"d":0.2,"c":27,"z":0.25,"e":0.086},{"d":0.2,"c":27,"z":0.5,"e":0.087},{"d":0.2,"c":27,"z":1,"e":0.089},{"d":0.2,"c":27,"z":1.5,"e":0.09},{"d":0.2,"c":27,"z":2,"e":0.09},{"d":0.2,"c":27,"z":2.5,"e":0.09},{"d":0.2,"c":27,"z":3,"e":0.09},
{"d":0.2,"c":28,"z":-3,"e":0.052},{"d":0.2,"c":28,"z":-2.5,"e":0.053},{"d":0.2,"c":28,"z":-2,"e":0.055},{"d":0.2,"c":28,"z":-1.5,"e":0.058},{"d":0.2,"c":28,"z":-1,"e":0.063},{"d":0.2,"c":28,"z":-0.5,"e":0.072},{"d":0.2,"c":28,"z":-0.25,"e":0.078},{"d":0.2,"c":28,"z":0,"e":0.082},{"d":0.2,"c":28,"z":0.25,"e":0.078},{"d":0.2,"c":28,"z":0.5,"e":0.072},{"d":0.2,"c":28,"z":1,"e":0.063},{"d":0.2,"c":28,"z":1.5,"e":0.058},{"d":0.2,"c":28,"z":2,"e":0.055},{"d":0.2,"c":28,"z":2.5,"e":0.053},{"d":0.2,"c":28,"z":3,"e":0.052},
{"d":0.2,"c":29,"z":-3,"e":0.014},{"d":0.2,"c":29,"z":-2.5,"e":0.017},{"d":0.2,"c":29,"z":-2,"e":0.021},{"d":0.2,"c":29,"z":-1.5,"e":0.028},{"d":0.2,"c":29,"z":-1,"e":0.04},{"d":0.2,"c":29,"z":-0.5,"e":0.058},{"d":0.2,"c":29,"z":-0.25,"e":0.068},{"d":0.2,"c":29,"z":0,"e":0.075},{"d":0.2,"c":29,"z":0.25,"e":0.068},{"d":0.2,"c":29,"z":0.5,"e":0.058},{"d":0.2,"c":29,"z":1,"e":0.04},{"d":0.2,"c":29,"z":1.5,"e":0.028},{"d":0.2,"c":29,"z":2,"e":0.021},{"d":0.2,"c":29,"z":2.5,"e":0.017},{"d":0.2,"c":29,"z":3,"e":0.014},
{"d":0.2,"c":30,"z":-3,"e":-0.328},{"d":0.2,"c":30,"z":-2.5,"e":-0.29},{"d":0.2,"c":30,"z":-2,"e":-0.25},{"d":0.2,"c":30,"z":-1.5,"e":-0.205},{"d":0.2,"c":30,"z":-1,"e":-0.16},{"d":0.2,"c":30,"z":-0.5,"e":-0.1},{"d":0.2,"c":30,"z":-0.25,"e":-0.04},{"d":0.2,"c":30,"z":0,"e":0.019},{"d":0.2,"c":30,"z":0.25,"e":-0.03},{"d":0.2,"c":30,"z":0.5,"e":-0.07},{"d":0.2,"c":30,"z":1,"e":-0.11},{"d":0.2,"c":30,"z":1.5,"e":-0.155},{"d":0.2,"c":30,"z":2,"e":-0.2},{"d":0.2,"c":30,"z":2.5,"e":-0.245},{"d":0.2,"c":30,"z":3,"e":-0.29},
{"d":0.2,"c":31,"z":-3,"e":-0.395},{"d":0.2,"c":31,"z":-2.5,"e":-0.345},{"d":0.2,"c":31,"z":-2,"e":-0.295},{"d":0.2,"c":31,"z":-1.5,"e":-0.24},{"d":0.2,"c":31,"z":-1,"e":-0.18},{"d":0.2,"c":31,"z":-0.5,"e":-0.11},{"d":0.2,"c":31,"z":-0.25,"e":-0.065},{"d":0.2,"c":31,"z":0,"e":-0.035},{"d":0.2,"c":31,"z":0.25,"e":-0.065},{"d":0.2,"c":31,"z":0.5,"e":-0.11},{"d":0.2,"c":31,"z":1,"e":-0.165},{"d":0.2,"c":31,"z":1.5,"e":-0.205},{"d":0.2,"c":31,"z":2,"e":-0.26},{"d":0.2,"c":31,"z":2.5,"e":-0.33},{"d":0.2,"c":31,"z":3,"e":-0.395},
{"d":0.2,"c":32,"z":-3,"e":-0.665},{"d":0.2,"c":32,"z":-2.5,"e":-0.585},{"d":0.2,"c":32,"z":-2,"e":-0.5},{"d":0.2,"c":32,"z":-1.5,"e":-0.41},{"d":0.2,"c":32,"z":-1,"e":-0.315},{"d":0.2,"c":32,"z":-0.5,"e":-0.21},{"d":0.2,"c":32,"z":-0.25,"e":-0.155},{"d":0.2,"c":32,"z":0,"e":-0.133},{"d":0.2,"c":32,"z":0.25,"e":-0.15},{"d":0.2,"c":32,"z":0.5,"e":-0.19},{"d":0.2,"c":32,"z":1,"e":-0.26},{"d":0.2,"c":32,"z":1.5,"e":-0.318},{"d":0.2,"c":32,"z":2,"e":-0.45},{"d":0.2,"c":32,"z":2.5,"e":-0.56},{"d":0.2,"c":32,"z":3,"e":-0.665},
{"d":0.2,"c":33,"z":-3,"e":-0.7},{"d":0.2,"c":33,"z":-2.5,"e":-0.62},{"d":0.2,"c":33,"z":-2,"e":-0.535},{"d":0.2,"c":33,"z":-1.5,"e":-0.445},{"d":0.2,"c":33,"z":-1,"e":-0.345},{"d":0.2,"c":33,"z":-0.5,"e":-0.23},{"d":0.2,"c":33,"z":-0.25,"e":-0.175},{"d":0.2,"c":33,"z":0,"e":-0.158},{"d":0.2,"c":33,"z":0.25,"e":-0.175},{"d":0.2,"c":33,"z":0.5,"e":-0.22},{"d":0.2,"c":33,"z":1,"e":-0.33},{"d":0.2,"c":33,"z":1.5,"e":-0.455},{"d":0.2,"c":33,"z":2,"e":-0.535},{"d":0.2,"c":33,"z":2.5,"e":-0.62},{"d":0.2,"c":33,"z":3,"e":-0.7},
{"d":0.2,"c":34,"z":-3,"e":-1.133},{"d":0.2,"c":34,"z":-2.5,"e":-0.99},{"d":0.2,"c":34,"z":-2,"e":-0.835},{"d":0.2,"c":34,"z":-1.5,"e":-0.655},{"d":0.2,"c":34,"z":-1,"e":-0.47},{"d":0.2,"c":34,"z":-0.5,"e":-0.34},{"d":0.2,"c":34,"z":-0.25,"e":-0.295},{"d":0.2,"c":34,"z":0,"e":-0.285},{"d":0.2,"c":34,"z":0.25,"e":-0.295},{"d":0.2,"c":34,"z":0.5,"e":-0.335},{"d":0.2,"c":34,"z":1,"e":-0.47},{"d":0.2,"c":34,"z":1.5,"e":-0.64},{"d":0.2,"c":34,"z":2,"e":-0.835},{"d":0.2,"c":34,"z":2.5,"e":-0.99},{"d":0.2,"c":34,"z":3,"e":-1.133},
{"d":0.2,"c":35,"z":-3,"e":-1.424},{"d":0.2,"c":35,"z":-2.5,"e":-1.2},{"d":0.2,"c":35,"z":-2,"e":-0.97},{"d":0.2,"c":35,"z":-1.5,"e":-0.745},{"d":0.2,"c":35,"z":-1,"e":-0.59},{"d":0.2,"c":35,"z":-0.5,"e":-0.515},{"d":0.2,"c":35,"z":-0.25,"e":-0.498},{"d":0.2,"c":35,"z":0,"e":-0.492},{"d":0.2,"c":35,"z":0.25,"e":-0.498},{"d":0.2,"c":35,"z":0.5,"e":-0.515},{"d":0.2,"c":35,"z":1,"e":-0.59},{"d":0.2,"c":35,"z":1.5,"e":-0.745},{"d":0.2,"c":35,"z":2,"e":-0.97},{"d":0.2,"c":35,"z":2.5,"e":-1.2},{"d":0.2,"c":35,"z":3,"e":-1.424}
]
},
"concat": [
{
 "width": 381, "height": 396,
 "title": {"text": "(a)\u00a0\u00a0N=2", "frame": "group", "offset": -70, "baseline": "alphabetic", "font": "Liberation Serif", "fontSize": 29, "fontWeight": "normal", "color": "#000", "anchor": "middle"},
 "data": {"name": "a"},
 "layer": [
  {"transform": [{"filter": "datum.d > 0"}],
   "mark": {"type": "line", "clip": true, "strokeWidth": 0.7, "color": "#ff5c5c", "interpolate": "monotone"},
   "encoding": {
    "x": {"field": "z", "type": "quantitative", "scale": {"domain": [-3, 3], "nice": false}, "axis": {"orient": "bottom", "values": [-3,-2.5,-2,-1.5,-1,-0.5,0,0.5,1,1.5,2,2.5,3], "tickSize": {"condition": {"test": "datum.value % 1 === 0", "value": 7}, "value": 4}, "labels": false, "title": null}},
    "y": {"field": "e", "type": "quantitative", "scale": {"domain": [-1.5, 1.5], "nice": false, "zero": false}, "axis": {"orient": "left", "values": [-1.5,-1.25,-1,-0.75,-0.5,-0.25,0,0.25,0.5,0.75,1,1.25,1.5], "tickSize": {"condition": {"test": "(datum.value * 2) % 1 === 0", "value": 7}, "value": 4}, "labelExpr": "(datum.value * 2) % 1 === 0 ? (datum.value < 0 ? '-' : '') + format(abs(datum.value), '.1f') : ''", "labelPadding": 3, "title": "Energy", "titleFontSize": 38, "titlePadding": 45, "titleY": 175}},
    "detail": {"field": "c", "type": "nominal"}
   }},
  {"transform": [{"filter": "datum.d == 0"}],
   "mark": {"type": "line", "clip": true, "interpolate": "monotone"},
   "encoding": {
    "x": {"field": "z", "type": "quantitative", "scale": {"domain": [-3, 3], "nice": false}, "axis": {"orient": "top", "values": [-3,-2.5,-2,-1.5,-1,-0.5,0,0.5,1,1.5,2,2.5,3], "tickSize": {"condition": {"test": "datum.value % 1 === 0", "value": -7}, "value": -4}, "labels": false, "title": null}},
    "y": {"field": "e", "type": "quantitative", "scale": {"domain": [-1.5, 1.5], "nice": false, "zero": false}, "axis": {"orient": "right", "values": [-1.5,-1.25,-1,-0.75,-0.5,-0.25,0,0.25,0.5,0.75,1,1.25,1.5], "tickSize": {"condition": {"test": "(datum.value * 2) % 1 === 0", "value": -7}, "value": -4}, "labels": false, "title": null}},
    "detail": {"field": "c", "type": "nominal"},
    "color": {"field": "d", "type": "nominal", "scale": {"domain": [0, 0.2], "range": ["#0000ff", "#ff0000"]}, "legend": {"orient": "none", "legendX": 153, "legendY": 291, "title": null, "symbolType": "stroke", "symbolSize": 784, "symbolStrokeWidth": 3, "symbolDash": [7, 3], "symbolOpacity": 1, "labelFont": "Liberation Serif", "labelFontSize": 26, "labelColor": "#000", "labelOffset": 8, "rowPadding": 11, "padding": 0, "labelExpr": "'Δ=' + datum.label"}},
    "strokeWidth": {"condition": {"test": "datum.c == 0", "value": 2.8}, "value": 2}
   }}
 ],
 "resolve": {"axis": {"x": "independent", "y": "independent"}}
},
{
 "width": 381, "height": 396,
 "title": {"text": "(c)\u00a0\u00a0N=6", "frame": "group", "offset": -88, "baseline": "alphabetic", "font": "Liberation Serif", "fontSize": 29, "fontWeight": "normal", "color": "#000", "anchor": "middle"},
 "data": {"name": "c"},
 "layer": [
  {"transform": [{"filter": "datum.d > 0"}],
   "mark": {"type": "line", "clip": true, "strokeWidth": 0.7, "color": "#ff5c5c", "interpolate": "monotone"},
   "encoding": {
    "x": {"field": "z", "type": "quantitative", "scale": {"domain": [-3, 3], "nice": false}, "axis": {"orient": "bottom", "values": [-3,-2.5,-2,-1.5,-1,-0.5,0,0.5,1,1.5,2,2.5,3], "tickSize": {"condition": {"test": "datum.value % 1 === 0", "value": 7}, "value": 4}, "labels": false, "title": null}},
    "y": {"field": "e", "type": "quantitative", "scale": {"domain": [-1.5, 1.5], "nice": false, "zero": false}, "axis": {"orient": "left", "values": [-1.5,-1.25,-1,-0.75,-0.5,-0.25,0,0.25,0.5,0.75,1,1.25,1.5], "tickSize": {"condition": {"test": "(datum.value * 2) % 1 === 0", "value": -7}, "value": -4}, "labels": false, "title": null}},
    "detail": {"field": "c", "type": "nominal"}
   }},
  {"transform": [{"filter": "datum.d == 0"}],
   "mark": {"type": "line", "clip": true, "color": "#0000ff", "interpolate": "monotone"},
   "encoding": {
    "x": {"field": "z", "type": "quantitative", "scale": {"domain": [-3, 3], "nice": false}, "axis": {"orient": "top", "values": [-3,-2.5,-2,-1.5,-1,-0.5,0,0.5,1,1.5,2,2.5,3], "tickSize": {"condition": {"test": "datum.value % 1 === 0", "value": -7}, "value": -4}, "labels": false, "title": null}},
    "y": {"field": "e", "type": "quantitative", "scale": {"domain": [-1.5, 1.5], "nice": false, "zero": false}, "axis": null},
    "detail": {"field": "c", "type": "nominal"},
    "strokeWidth": {"condition": {"test": "datum.c == 0", "value": 2.8}, "value": 2}
   }}
 ],
 "resolve": {"axis": {"x": "independent", "y": "independent"}}
},
{
 "width": 381, "height": 396,
 "title": {"text": "(b)\u00a0\u00a0N=4", "frame": "group", "offset": -88, "baseline": "alphabetic", "font": "Liberation Serif", "fontSize": 29, "fontWeight": "normal", "color": "#000", "anchor": "middle"},
 "data": {"name": "b"},
 "layer": [
  {"transform": [{"filter": "datum.d > 0"}],
   "mark": {"type": "line", "clip": true, "strokeWidth": 0.7, "color": "#ff5c5c", "interpolate": "monotone"},
   "encoding": {
    "x": {"field": "z", "type": "quantitative", "scale": {"domain": [-3, 3], "nice": false}, "axis": {"orient": "bottom", "values": [-3,-2.5,-2,-1.5,-1,-0.5,0,0.5,1,1.5,2,2.5,3], "tickSize": {"condition": {"test": "datum.value % 1 === 0", "value": 7}, "value": 4}, "labelExpr": "datum.value % 1 === 0 ? (datum.value < 0 ? '-' : '') + abs(datum.value) : ''", "labelPadding": 5, "title": "z", "titleFontSize": 38, "titlePadding": 22}},
    "y": {"field": "e", "type": "quantitative", "scale": {"domain": [-1.5, 1.5], "nice": false, "zero": false}, "axis": {"orient": "left", "values": [-1.5,-1.25,-1,-0.75,-0.5,-0.25,0,0.25,0.5,0.75,1,1.25,1.5], "tickSize": {"condition": {"test": "(datum.value * 2) % 1 === 0", "value": 7}, "value": 4}, "labelExpr": "(datum.value * 2) % 1 === 0 ? (datum.value < 0 ? '-' : '') + format(abs(datum.value), '.1f') : ''", "labelPadding": 3, "title": "Energy", "titleFontSize": 38, "titlePadding": 45, "titleY": 194}},
    "detail": {"field": "c", "type": "nominal"}
   }},
  {"transform": [{"filter": "datum.d == 0"}],
   "mark": {"type": "line", "clip": true, "color": "#0000ff", "interpolate": "monotone"},
   "encoding": {
    "x": {"field": "z", "type": "quantitative", "scale": {"domain": [-3, 3], "nice": false}, "axis": {"orient": "top", "values": [-3,-2.5,-2,-1.5,-1,-0.5,0,0.5,1,1.5,2,2.5,3], "tickSize": {"condition": {"test": "datum.value % 1 === 0", "value": -7}, "value": -4}, "labels": false, "title": null}},
    "y": {"field": "e", "type": "quantitative", "scale": {"domain": [-1.5, 1.5], "nice": false, "zero": false}, "axis": {"orient": "right", "values": [-1.5,-1.25,-1,-0.75,-0.5,-0.25,0,0.25,0.5,0.75,1,1.25,1.5], "tickSize": {"condition": {"test": "(datum.value * 2) % 1 === 0", "value": -7}, "value": -4}, "labels": false, "title": null}},
    "detail": {"field": "c", "type": "nominal"},
    "strokeWidth": {"condition": {"test": "datum.c == 0", "value": 2.8}, "value": 2}
   }}
 ],
 "resolve": {"axis": {"x": "independent", "y": "independent"}}
},
{
 "width": 381, "height": 396,
 "title": {"text": "(d)\u00a0\u00a0N=8", "frame": "group", "offset": -88, "baseline": "alphabetic", "font": "Liberation Serif", "fontSize": 29, "fontWeight": "normal", "color": "#000", "anchor": "middle"},
 "data": {"name": "d"},
 "layer": [
  {"transform": [{"filter": "datum.d > 0"}],
   "mark": {"type": "line", "clip": true, "strokeWidth": 0.7, "color": "#ff5c5c", "interpolate": "monotone"},
   "encoding": {
    "x": {"field": "z", "type": "quantitative", "scale": {"domain": [-3, 3], "nice": false}, "axis": {"orient": "bottom", "values": [-3,-2.5,-2,-1.5,-1,-0.5,0,0.5,1,1.5,2,2.5,3], "tickSize": {"condition": {"test": "datum.value % 1 === 0", "value": 7}, "value": 4}, "labelExpr": "datum.value % 1 === 0 ? (datum.value < 0 ? '-' : '') + abs(datum.value) : ''", "labelPadding": 5, "title": "z", "titleFontSize": 38, "titlePadding": 22}},
    "y": {"field": "e", "type": "quantitative", "scale": {"domain": [-1.5, 1.5], "nice": false, "zero": false}, "axis": {"orient": "left", "values": [-1.5,-1.25,-1,-0.75,-0.5,-0.25,0,0.25,0.5,0.75,1,1.25,1.5], "tickSize": {"condition": {"test": "(datum.value * 2) % 1 === 0", "value": -7}, "value": -4}, "labels": false, "title": null}},
    "detail": {"field": "c", "type": "nominal"}
   }},
  {"transform": [{"filter": "datum.d == 0"}],
   "mark": {"type": "line", "clip": true, "color": "#0000ff", "interpolate": "monotone"},
   "encoding": {
    "x": {"field": "z", "type": "quantitative", "scale": {"domain": [-3, 3], "nice": false}, "axis": {"orient": "top", "values": [-3,-2.5,-2,-1.5,-1,-0.5,0,0.5,1,1.5,2,2.5,3], "tickSize": {"condition": {"test": "datum.value % 1 === 0", "value": -7}, "value": -4}, "labels": false, "title": null}},
    "y": {"field": "e", "type": "quantitative", "scale": {"domain": [-1.5, 1.5], "nice": false, "zero": false}, "axis": null},
    "detail": {"field": "c", "type": "nominal"},
    "strokeWidth": {"condition": {"test": "datum.c == 0", "value": 2.8}, "value": 2}
   }}
 ],
 "resolve": {"axis": {"x": "independent", "y": "independent"}}
}
],
"columns": 2,
"spacing": 22,
"bounds": "flush"
}
